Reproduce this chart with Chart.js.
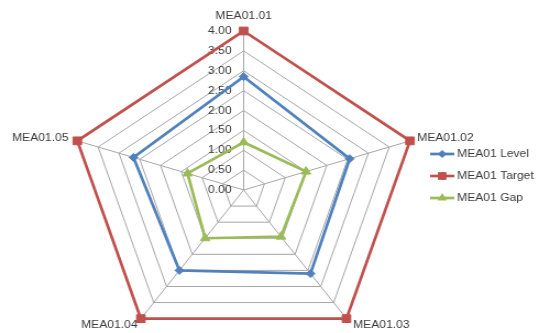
<!DOCTYPE html>
<html>
<head>
<meta charset="utf-8">
<script src="https://cdn.jsdelivr.net/npm/chart.js@4/dist/chart.umd.min.js"></script>
<style>
  html, body { margin: 0; padding: 0; background: #fff; overflow: hidden; width: 538px; height: 333px; }
  /* the whole drawing is widened a little horizontally */
  #wrap { width: 489px; height: 333px; transform: scaleX(1.1); transform-origin: 0 0; }
  canvas { display: block; }
</style>
</head>
<body>
<div id="wrap"><canvas id="c" width="489" height="333"></canvas></div>
<script>
// Process areas on the spokes
const categories = ['MEA01.01', 'MEA01.02', 'MEA01.03', 'MEA01.04', 'MEA01.05'];

// Series
const seriesNames = ['MEA01 Level', 'MEA01 Target', 'MEA01 Gap'];
const levelValues  = [2.85, 2.55, 2.6, 2.5, 2.65];
const targetValues = [4.0, 4.0, 4.0, 4.0, 4.0];
const gapValues    = [1.2, 1.5, 1.45, 1.5, 1.35];

// Radial scale labels
const tickLabels = ['0.00', '0.50', '1.00', '1.50', '2.00', '2.50', '3.00', '3.50', '4.00'];

const FONT = '11px "Liberation Sans", Arial, sans-serif';
const TEXT_COLOR = '#3a3a3a';
const GRID_COLOR = '#a6a6a6';

function marker(ctx, style, x, y, r) {
  ctx.beginPath();
  if (style === 'rect') {
    const s = r * Math.SQRT1_2;
    ctx.rect(x - s, y - s, 2 * s, 2 * s);
  } else if (style === 'rectRot') {
    ctx.moveTo(x, y - r); ctx.lineTo(x + r, y); ctx.lineTo(x, y + r); ctx.lineTo(x - r, y);
    ctx.closePath();
  } else {
    const h = r * 1.5;
    ctx.moveTo(x, y - r); ctx.lineTo(x + h * 0.577, y + r * 0.5); ctx.lineTo(x - h * 0.577, y + r * 0.5);
    ctx.closePath();
  }
  ctx.fill();
}

const decorations = {
  id: 'decorations',
  beforeDatasetsDraw(chart) {
    const r = chart.scales.r, ctx = chart.ctx;
    ctx.save();
    ctx.font = FONT;
    ctx.fillStyle = TEXT_COLOR;
    ctx.textAlign = 'right';
    ctx.textBaseline = 'middle';
    tickLabels.forEach(t => {
      const d = r.getDistanceFromCenterForValue(parseFloat(t));
      ctx.fillText(t, r.xCenter - 11, r.yCenter - d);
    });
    ctx.restore();
  },
  afterDraw(chart) {
    const r = chart.scales.r, ctx = chart.ctx;
    ctx.save();
    ctx.font = FONT;
    ctx.fillStyle = TEXT_COLOR;
    ctx.textBaseline = 'middle';
    const outer = r.getDistanceFromCenterForValue(r.max);
    categories.forEach((name, i) => {
      const p = r.getPointPosition(i, outer);
      const dx = p.x - r.xCenter, dy = p.y - r.yCenter;
      if (Math.abs(dx) < 1) {
        ctx.textAlign = 'center';
        ctx.fillText(name, p.x, p.y - 15.5);
      } else if (dy > 0) {
        ctx.textAlign = dx > 0 ? 'left' : 'right';
        ctx.fillText(name, p.x + (dx > 0 ? 6 : -3), p.y + 6.5);
      } else {
        ctx.textAlign = dx > 0 ? 'left' : 'right';
        ctx.fillText(name, p.x + (dx > 0 ? 6.5 : -8), p.y - 3);
      }
    });

    // legend
    const rowY = [154, 176, 198];
    chart.data.datasets.forEach((ds, i) => {
      const y = rowY[i];
      ctx.strokeStyle = ds.borderColor;
      ctx.fillStyle = ds.borderColor;
      ctx.lineWidth = 2.7;
      ctx.beginPath();
      ctx.moveTo(391, y); ctx.lineTo(413, y);
      ctx.stroke();
      marker(ctx, ds.pointStyle, 402, y, ds.pointRadius);
      ctx.fillStyle = TEXT_COLOR;
      ctx.textAlign = 'left';
      ctx.fillText(ds.label, 415.5, y);
    });
    ctx.restore();
  }
};

new Chart(document.getElementById('c'), {
  type: 'radar',
  data: {
    labels: categories,
    datasets: [
      { label: seriesNames[0], data: levelValues, borderColor: '#4F81BD', backgroundColor: '#4F81BD',
        pointStyle: 'rectRot', pointRadius: 4 },
      { label: seriesNames[1], data: targetValues, borderColor: '#C0504D', backgroundColor: '#C0504D',
        pointStyle: 'rect', pointRadius: 5.5 },
      { label: seriesNames[2], data: gapValues, borderColor: '#9BBB59', backgroundColor: '#9BBB59',
        pointStyle: 'triangle', pointRadius: 5 }
    ].map(d => Object.assign({
      borderWidth: 2.7, fill: false, tension: 0,
      pointBorderWidth: 1, pointBorderColor: d.borderColor, pointBackgroundColor: d.borderColor
    }, d))
  },
  options: {
    responsive: false,
    animation: false,
    devicePixelRatio: 1,
    plugins: { legend: { display: false }, tooltip: { enabled: false } },
    scales: {
      r: {
        min: 0,
        max: 4,
        ticks: { stepSize: 0.5, display: false },
        grid: { color: GRID_COLOR, lineWidth: 1 },
        angleLines: { color: GRID_COLOR, lineWidth: 1 },
        pointLabels: { display: false },
        afterFit(scale) {
          scale.xCenter = 221.5;
          scale.yCenter = 190;
          scale.drawingArea = 159;
        }
      }
    }
  },
  plugins: [decorations]
});
</script>
</body>
</html>
